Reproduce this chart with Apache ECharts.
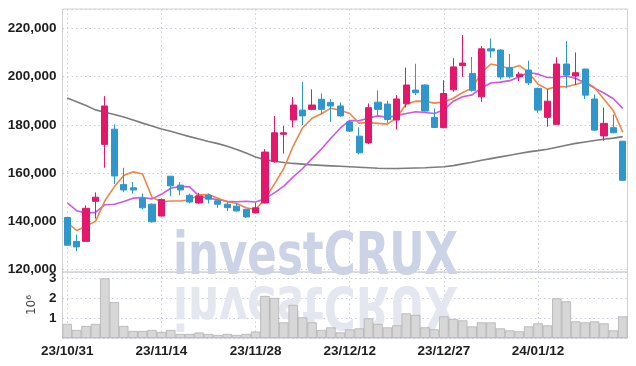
<!DOCTYPE html>
<html>
<head>
<meta charset="utf-8">
<script src="https://cdn.jsdelivr.net/npm/echarts@6/dist/echarts.min.js"></script>
<style>
html,body{margin:0;padding:0;background:#fff;}
#chart{width:636px;height:366px;}
</style>
</head>
<body>
<div id="chart"></div>
<script>
const categories = [
  '23/10/31','23/11/01','23/11/02','23/11/03','23/11/06','23/11/07','23/11/08','23/11/09','23/11/10','23/11/13',
  '23/11/14','23/11/15','23/11/16','23/11/17','23/11/20','23/11/21','23/11/22','23/11/23','23/11/24','23/11/27',
  '23/11/28','23/11/29','23/11/30','23/12/01','23/12/04','23/12/05','23/12/06','23/12/07','23/12/08','23/12/11',
  '23/12/12','23/12/13','23/12/14','23/12/15','23/12/18','23/12/19','23/12/20','23/12/21','23/12/22','23/12/26',
  '23/12/27','23/12/28','24/01/02','24/01/03','24/01/04','24/01/05','24/01/08','24/01/09','24/01/10','24/01/11',
  '24/01/12','24/01/15','24/01/16','24/01/17','24/01/18','24/01/19','24/01/22','24/01/23','24/01/24','24/01/25'
];
const opens = [
  141600,131700,131700,148300,171900,178200,155300,153900,149500,147100,
  142200,158700,155000,150800,147600,150800,148500,147100,146300,145000,
  143500,147600,164700,176100,182000,186100,186400,190600,189300,187800,
  181200,175300,172500,189400,188600,182000,188700,194400,196500,183100,
  178800,194500,204500,201300,191600,211500,211000,203800,199900,202700,
  195100,183100,180200,205200,200200,203100,190700,175400,178800,173200
];
const closes = [
  130100,129400,145400,150000,187800,158800,153000,153000,145600,139800,
  149000,154700,153000,148000,150500,149200,147100,145700,144300,141800,
  145600,168700,176700,176700,188200,183700,188200,186400,187800,183700,
  177400,168400,187100,186400,182200,190700,196500,193300,185700,178900,
  193000,204000,205600,194300,211500,210600,199800,199900,201000,197400,
  186100,189800,205200,200600,201600,192300,177800,180600,176700,157000
];
const lows = [
  130000,127700,131700,141200,162200,155500,152200,151500,144900,139500,
  142000,150400,150800,147500,147300,147400,145600,144300,144100,141400,
  143300,147400,164300,168100,178900,179900,186000,184300,181200,183400,
  177000,167800,172000,184000,180800,178100,187200,192300,185500,178700,
  178600,193700,199900,193700,189500,207800,198800,199200,198100,196500,
  185000,179200,180000,195100,196500,190700,177400,173400,176500,156800
];
const highs = [
  141800,134500,146600,152000,191900,180200,162200,156300,151500,147400,
  149400,158800,156300,151500,151800,151500,148800,148000,147600,145200,
  147600,169900,183700,179500,191500,197800,194700,193000,190600,189300,
  181500,179000,188900,194300,190000,192300,203700,205300,196800,186800,
  198500,207600,217200,208100,212700,215800,211300,209400,202000,206600,
  195400,194700,208000,214700,210000,203300,192600,187100,184300,173400
];
const ma5 = [
  139500,136200,138000,140000,148500,154300,159000,160500,159600,150000,
  148100,148400,148400,148900,151000,151100,149600,148100,147400,145600,
  144900,149200,155400,161900,171200,178800,182700,184600,186900,186000,
  184700,180700,180900,180600,180300,183000,188600,189800,189700,189000,
  189500,191000,193400,195200,201700,205200,204400,203200,204600,201700,
  196800,194800,195900,195800,196700,197900,195500,190600,185800,176900
];
const ma10 = [
  147700,144400,143400,143700,146900,147100,148200,149600,149900,149300,
  151200,153700,154500,154300,150500,149600,149000,148300,148100,148300,
  148000,149400,151800,154600,158400,161900,166000,170000,174400,178600,
  181800,181700,182800,183700,183100,183800,184700,185400,185100,184700,
  186200,189800,191600,192400,195400,197300,197700,198300,199900,201700,
  201000,199600,199600,200200,199200,197400,195200,193200,190800,186800
];
const ma60 = [
  191100,189600,188000,186200,185200,184300,183200,182000,180700,179500,
  178300,177300,176200,175100,174100,173100,172200,171100,169800,168300,
  166700,165500,164900,164400,164000,163700,163400,163200,163000,162800,
  162600,162400,162200,162000,161900,161900,162000,162100,162200,162400,
  162600,163100,163800,164500,165300,166000,166700,167400,168100,168800,
  169300,169900,170700,171500,172300,172900,173500,174000,174500,175100
];
const volumes = [
  700000,400000,600000,700000,2980000,1790000,600000,350000,350000,400000,
  300000,400000,200000,200000,270000,200000,150000,200000,150000,200000,
  320000,2100000,2000000,780000,1650000,1030000,780000,400000,530000,280000,
  430000,480000,980000,700000,530000,630000,1230000,1150000,530000,430000,
  1080000,950000,880000,580000,780000,780000,480000,380000,330000,580000,
  730000,630000,1980000,1830000,830000,780000,830000,730000,380000,1080000
];
const watermark = 'investCRUX';

const chart = echarts.init(document.getElementById('chart'), null, {renderer: 'canvas'});
const labelFont = "'Liberation Sans', Arial, sans-serif";
const wmFont = "bold 58px 'DejaVu Sans Condensed', 'DejaVu Sans', sans-serif";
const gridDot = {color: '#c9cce0', width: 1, type: [1.5, 3]};
const fmt = v => String(Math.round(v)).replace(/\B(?=(\d{3})+(?!\d))/g, ',');

const option = {
  backgroundColor: '#ffffff',
  animation: false,
  graphic: [
    {type: 'text', x: 173, y: 302, scaleX: 0.835, scaleY: -1, z: 1, silent: true,
     style: {text: watermark, x: 0, y: 0, verticalAlign: 'middle', align: 'left', font: wmFont, fill: '#e5e7f0'}},
    {type: 'text', x: 173, y: 259, scaleX: 0.835, z: 1, silent: true,
     style: {text: watermark, x: 0, y: 0, verticalAlign: 'middle', align: 'left', font: wmFont, fill: '#cdd3e7'}}
  ],
  grid: [
    {left: 62.5, right: 8.5, top: 9, height: 263, containLabel: false, outerBoundsMode: 'none',
     show: true, borderColor: '#d2d2d2', borderWidth: 1},
    {left: 62.5, right: 8.5, top: 272, height: 66, containLabel: false, outerBoundsMode: 'none',
     show: true, borderColor: '#d2d2d2', borderWidth: 1}
  ],
  xAxis: [
    {type: 'category', gridIndex: 0, data: categories, boundaryGap: true,
     axisLine: {show: false}, axisTick: {show: false}, axisLabel: {show: false},
     splitLine: {show: true, interval: 9, alignWithLabel: true, lineStyle: gridDot}},
    {type: 'category', gridIndex: 1, data: categories, boundaryGap: true,
     axisLine: {show: false}, axisTick: {show: false},
     axisLabel: {show: true, interval: 9, margin: 6, fontFamily: labelFont, fontWeight: 'bold', fontSize: 13.5, color: '#1e1e1e'},
     splitLine: {show: true, interval: 9, alignWithLabel: true, lineStyle: gridDot}}
  ],
  yAxis: [
    {type: 'value', gridIndex: 0, min: 119000, max: 228000, splitNumber: 5, scale: true,
     axisLine: {show: false}, axisTick: {show: false},
     axisLabel: {margin: 6, showMinLabel: false, showMaxLabel: false, fontFamily: labelFont, fontWeight: 'bold', fontSize: 13.5, color: '#1e1e1e', formatter: fmt},
     splitLine: {show: true, lineStyle: gridDot}},
    {type: 'value', gridIndex: 1, min: 0, max: 3300000, interval: 1000000,
     name: '10\u2076', nameLocation: 'middle', nameRotate: 90, nameGap: 6,
     nameTextStyle: {fontFamily: "'DejaVu Sans', sans-serif", fontSize: 12, color: '#444'},
     axisLine: {show: false}, axisTick: {show: false},
     axisLabel: {margin: 6, showMinLabel: false, showMaxLabel: false, fontFamily: labelFont, fontWeight: 'bold', fontSize: 13.5, color: '#1e1e1e', formatter: v => String(v / 1000000)},
     splitLine: {show: true, lineStyle: gridDot}}
  ],
  series: [
    {name: 'MA60', type: 'line', xAxisIndex: 0, yAxisIndex: 0, data: ma60, symbol: 'none', smooth: false,
     lineStyle: {color: '#7c7c7c', width: 1.6}, z: 3},
    {name: 'MA10', type: 'line', xAxisIndex: 0, yAxisIndex: 0, data: ma10, symbol: 'none', smooth: false,
     lineStyle: {color: '#cc58e8', width: 1.6}, z: 3},
    {name: 'MA5', type: 'line', xAxisIndex: 0, yAxisIndex: 0, data: ma5, symbol: 'none', smooth: false,
     lineStyle: {color: '#ee8648', width: 1.6}, z: 3},
    {name: 'price', type: 'candlestick', xAxisIndex: 0, yAxisIndex: 0, barWidth: '70%', z: 4,
     data: categories.map((c, i) => [opens[i], closes[i], lows[i], highs[i]]),
     itemStyle: {color: '#e3186b', color0: '#2f97cb', borderColor: '#e3186b', borderColor0: '#2f97cb', borderWidth: 1}},
    {name: 'volume', type: 'bar', xAxisIndex: 1, yAxisIndex: 1, data: volumes, barCategoryGap: '0%', z: 3,
     itemStyle: {color: '#d7d7d7', borderColor: '#ababab', borderWidth: 0.7}}
  ]
};
chart.setOption(option);
</script>
</body>
</html>
